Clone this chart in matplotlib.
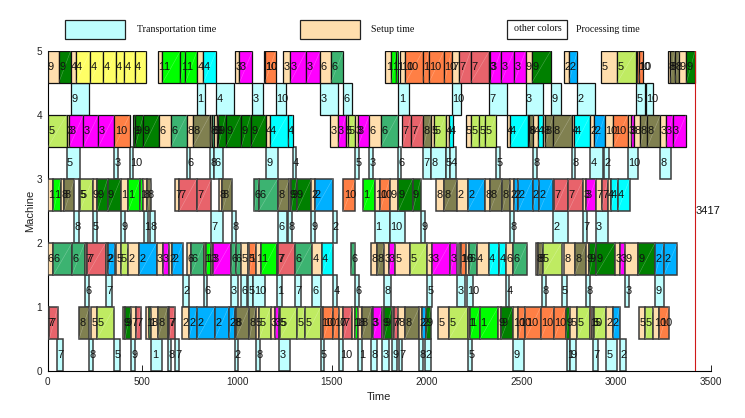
import matplotlib
matplotlib.use("Agg")
import matplotlib.pyplot as plt
from matplotlib.patches import Rectangle

# (start, end, job, colour category)
machine_5 = [(0,59,9,'S'),(59,122,9,'G'),(122,149,4,'S'),(149,226,4,'Y'),(226,295,4,'Y'),(295,360,4,'Y'),(360,405,4,'Y'),(405,460,4,'Y'),(460,521,4,'Y'),
 (581,606,1,'S'),(606,701,1,'L'),(701,727,1,'L'),(727,789,1,'L'),(789,822,4,'S'),(822,891,4,'C'),(991,1012,3,'S'),(1012,1081,3,'M'),
 (1144,1146,10,'S'),(1146,1204,10,'O'),(1244,1279,3,'S'),(1279,1365,3,'M'),(1365,1439,3,'M'),(1439,1494,6,'S'),(1494,1561,6,'A'),
 (1782,1814,1,'S'),(1814,1840,1,'L'),(1840,1851,1,'L'),(1861,1888,10,'S'),(1888,1979,10,'O'),(1979,2011,1,'O'),(2011,2092,10,'O'),(2092,2132,10,'O'),
 (2132,2173,7,'S'),(2173,2232,7,'R'),(2232,2331,7,'R'),(2331,2334,3,'S'),(2334,2391,3,'M'),(2391,2461,3,'M'),(2461,2522,3,'M'),(2522,2554,9,'S'),(2554,2654,9,'G'),
 (2726,2749,2,'S'),(2749,2795,2,'B'),(2922,3004,5,'S'),(3004,3103,5,'P'),(3112,3119,10,'O'),(3119,3141,10,'O'),
 (3272,3284,8,'S'),(3284,3309,8,'K'),(3309,3333,8,'K'),(3333,3370,9,'S'),(3370,3416,9,'G')]
transport_4 = [(122,217,9),(789,833,1),(891,984,4),(1081,1135,3),(1204,1256,10),(1439,1532,3),(1561,1606,6),
 (1851,1905,1),(2132,2180,10),(2331,2422,7),(2522,2612,3),(2654,2707,9),(2795,2886,2),(3103,3154,5),(3155,3196,10)]
machine_4 = [(3,101,5,'P'),(101,115,3,'S'),(115,189,3,'M'),(189,268,3,'M'),(268,353,3,'M'),(353,433,10,'O'),
 (453,462,9,'G'),(462,506,9,'G'),(506,588,9,'G'),(588,652,6,'S'),(652,736,6,'A'),(736,766,8,'S'),(766,857,8,'K'),(857,866,8,'K'),(866,878,6,'A'),(878,892,9,'S'),
 (892,901,9,'G'),(901,940,9,'G'),(940,1022,9,'G'),(1022,1072,9,'G'),(1072,1151,9,'G'),(1151,1172,4,'S'),(1172,1267,4,'C'),(1267,1293,4,'C'),
 (1492,1531,3,'S'),(1531,1573,3,'M'),(1573,1587,5,'S'),(1587,1624,5,'P'),(1624,1636,3,'S'),(1636,1698,3,'M'),(1698,1759,6,'S'),(1759,1849,6,'A'),
 (1872,1919,7,'R'),(1919,1983,7,'R'),(1983,2023,8,'K'),(2023,2039,5,'S'),(2039,2100,5,'P'),(2100,2120,4,'S'),(2120,2137,4,'C'),
 (2206,2236,5,'S'),(2236,2278,5,'P'),(2278,2308,5,'P'),(2308,2366,5,'P'),
 (2422,2438,4,'S'),(2438,2533,4,'C'),(2533,2542,8,'S'),(2542,2563,8,'K'),(2563,2586,4,'S'),(2586,2616,4,'C'),(2616,2623,8,'S'),(2623,2668,8,'K'),(2668,2765,8,'K'),
 (2765,2779,4,'S'),(2779,2864,4,'C'),(2864,2885,2,'S'),(2885,2941,2,'B'),(2941,2985,10,'S'),(2985,3062,10,'O'),(3062,3076,3,'S'),(3076,3092,3,'M'),(3092,3127,8,'S'),
 (3127,3164,8,'K'),(3164,3233,8,'K'),(3233,3261,3,'S'),(3261,3298,3,'M'),(3298,3368,3,'M')]
transport_3 = [(101,170,5),(353,372,3),(433,453,10),(736,754,6),(857,878,8),(878,924,6),(1151,1218,9),(1293,1313,4),(1624,1645,5),(1698,1715,3),
 (1847,1867,6),(1983,2023,7),(2023,2100,8),(2100,2123,5),(2123,2153,4),(2366,2385,5),(2563,2581,8),(2765,2783,8),(2864,2932,4),(2936,2960,2),(3062,3117,10),(3233,3287,8)]
machine_3 = [(3,31,1,'S'),(31,70,1,'L'),(70,89,8,'S'),(89,142,8,'K'),(166,171,5,'S'),(171,238,5,'P'),(238,263,9,'S'),(263,317,9,'G'),(317,386,9,'G'),(386,426,1,'S'),
 (426,488,1,'L'),(488,506,1,'L'),(506,527,8,'S'),(527,548,8,'K'),(673,696,7,'S'),(696,787,7,'R'),(787,864,7,'R'),(903,922,8,'S'),(922,972,8,'K'),
 (1091,1114,6,'A'),(1114,1214,6,'A'),(1214,1276,8,'K'),(1276,1285,9,'S'),(1285,1314,9,'G'),(1314,1392,9,'G'),(1392,1409,2,'S'),(1409,1504,2,'B'),
 (1561,1624,10,'O'),(1663,1728,1,'L'),(1728,1754,10,'S'),(1754,1805,10,'O'),(1805,1851,9,'S'),(1851,1926,9,'G'),(1926,1969,9,'G'),
 (2051,2092,8,'S'),(2092,2162,8,'K'),(2162,2217,2,'S'),(2217,2306,2,'B'),(2306,2334,8,'S'),(2334,2399,8,'K'),(2399,2442,8,'K'),(2442,2461,2,'S'),(2461,2484,2,'B'),
 (2484,2559,2,'B'),(2559,2595,2,'B'),(2595,2665,2,'B'),(2674,2748,7,'R'),(2748,2827,7,'R'),(2827,2839,3,'S'),(2839,2892,3,'M'),(2892,2923,7,'S'),(2923,2955,7,'R'),
 (2955,2971,4,'S'),(2971,3008,4,'C'),(3008,3071,4,'C')]
transport_2 = [(142,166,8),(238,263,5),(386,407,9),(509,532,1),(541,569,8),(864,924,7),(972,994,8),(1214,1265,6),(1270,1292,8),(1392,1413,9),(1504,1529,2),
 (1728,1805,1),(1805,1886,10),(1969,1993,9),(2442,2461,8),(2665,2748,2),(2827,2848,7),(2892,2955,3)]
machine_2 = [(0,31,6,'S'),(31,129,6,'A'),(129,196,6,'A'),(196,210,7,'S'),(210,307,7,'R'),(307,317,2,'S'),(317,358,2,'B'),(361,386,5,'S'),(386,426,5,'P'),(426,484,2,'S'),
 (484,576,2,'B'),(576,607,3,'S'),(607,643,3,'M'),(643,655,2,'S'),(655,713,2,'B'),(738,755,6,'S'),(755,826,6,'A'),(826,834,1,'S'),(834,861,1,'L'),(861,871,3,'S'),
 (871,966,3,'M'),(966,992,6,'A'),(992,1022,6,'A'),(1022,1058,5,'S'),(1058,1063,5,'P'),(1063,1098,1,'O'),(1098,1124,1,'S'),(1124,1209,1,'L'),(1209,1218,7,'S'),
 (1218,1306,7,'R'),(1306,1397,6,'A'),(1397,1446,4,'S'),(1446,1508,4,'C'),(1601,1622,6,'A'),(1708,1740,8,'S'),(1740,1777,8,'K'),(1777,1800,3,'S'),(1800,1835,3,'M'),
 (1835,1912,5,'S'),(1912,2004,5,'P'),(2004,2030,3,'S'),(2030,2123,3,'M'),(2123,2159,3,'M'),(2173,2180,1,'S'),(2180,2208,10,'O'),(2208,2222,6,'S'),(2222,2264,6,'A'),
 (2264,2327,4,'S'),(2327,2384,4,'C'),(2384,2419,4,'C'),(2419,2457,6,'S'),(2457,2531,6,'A'),(2577,2589,8,'S'),(2589,2612,8,'K'),(2612,2712,5,'P'),(2723,2781,8,'S'),
 (2781,2841,8,'K'),(2841,2858,9,'S'),(2858,2893,9,'G'),(2893,2994,9,'G'),(2994,3020,3,'S'),(3020,3047,3,'M'),(3047,3117,9,'S'),(3117,3205,9,'G'),(3205,3252,2,'B'),(3252,3323,2,'B')]
transport_1 = [(196,217,6),(307,338,7),(713,745,2),(826,843,6),(966,1007,3),(1022,1054,6),(1058,1086,5),(1086,1147,10),(1209,1239,1),(1306,1336,7),(1397,1441,6),(1508,1529,4),(1622,1643,6),
 (1777,1810,8),(2004,2027,5),(2159,2204,3),(2211,2243,10),(2419,2436,4),(2609,2628,8),(2712,2739,5),(2841,2860,8),(3047,3066,3),(3205,3252,9)]
machine_1 = [(0,10,7,'S'),(10,54,7,'R'),(166,221,8,'K'),(231,261,5,'S'),(261,353,5,'P'),(397,409,9,'S'),(409,442,9,'G'),(442,467,7,'S'),(467,491,7,'R'),(520,534,1,'S'),
 (534,548,1,'L'),(548,581,8,'S'),(581,634,8,'K'),(634,643,7,'S'),(643,671,7,'R'),(708,745,2,'S'),(745,790,2,'B'),(790,882,2,'B'),(882,956,2,'B'),(956,987,2,'B'),
 (987,992,8,'S'),(992,1065,8,'K'),(1065,1098,8,'K'),(1098,1117,5,'S'),(1117,1177,5,'P'),(1177,1198,3,'S'),(1198,1221,3,'M'),(1221,1226,5,'S'),(1226,1318,5,'P'),
 (1318,1357,5,'P'),(1357,1441,5,'P'),(1441,1455,10,'S'),(1455,1508,10,'O'),(1508,1540,10,'O'),(1540,1561,7,'S'),(1561,1608,7,'R'),(1608,1622,1,'S'),(1622,1640,1,'L'),
 (1640,1657,8,'S'),(1657,1710,8,'K'),(1710,1715,3,'S'),(1715,1766,3,'M'),(1766,1775,9,'S'),(1775,1817,9,'G'),(1817,1828,7,'S'),(1828,1849,7,'R'),(1849,1886,8,'S'),
 (1886,1962,8,'K'),(1962,1974,2,'S'),(1974,1997,2,'B'),(1997,2021,9,'G'),(2062,2118,5,'S'),(2118,2217,5,'P'),(2217,2227,1,'S'),(2227,2282,1,'L'),(2282,2378,1,'L'),
 (2378,2392,9,'S'),(2392,2454,9,'G'),(2454,2484,10,'S'),(2484,2521,10,'O'),(2521,2602,10,'O'),(2602,2672,10,'O'),(2672,2735,10,'O'),(2735,2756,9,'G'),(2756,2795,5,'S'),
 (2795,2862,5,'P'),(2862,2871,10,'O'),(2871,2885,5,'S'),(2885,2945,5,'P'),(2945,2981,2,'S'),(2981,3018,2,'B'),(3122,3154,5,'S'),(3154,3196,5,'P'),(3196,3228,10,'S'),(3228,3277,10,'O')]
transport_0 = [(52,84,7),(217,242,8),(353,384,5),(442,460,9),(548,606,1),(634,651,8),(671,696,7),(987,1007,2),(1098,1119,8),(1221,1279,3),(1441,1458,5),(1540,1561,10),(1640,1661,1),(1708,1738,8),
 (1766,1800,3),(1817,1842,9),(1853,1872,7),(1962,1979,8),(1993,2021,2),(2217,2238,5),(2457,2512,9),(2739,2756,1),(2756,2786,9),(2876,2902,7),(2945,3004,5),(3018,3050,2)]

machines = {5: machine_5, 4: machine_4, 3: machine_3, 2: machine_2, 1: machine_1}
transports = {4: transport_4, 3: transport_3, 2: transport_2, 1: transport_1, 0: transport_0}
makespan = 3417
legend_labels = ['Transportation time', 'Setup time', 'other colors', 'Processing time']

palette = {'S': '#FFDEAD', 'Y': '#FFFF66', 'G': '#008000', 'L': '#00FF00', 'M': '#FF00FF', 'O': '#FF7F45',
           'A': '#3CB371', 'R': '#E8636B', 'K': '#808050', 'P': '#BFEB62', 'C': '#00FFFF', 'B': '#00B0FF'}
transport_colour = '#BFFFFF'

W, H = 745, 418
fig = plt.figure(figsize=(W / 100, H / 100), dpi=100)
ax = fig.add_axes([47.5 / W, 47 / H, 663.5 / W, 320 / H])
ax.set_xlim(0, 3500)
ax.set_ylim(0, 5)
for s in ['top', 'right']:
    ax.spines[s].set_visible(False)
for s in ['left', 'bottom']:
    ax.spines[s].set_linewidth(0.8)
ax.tick_params(direction='in', length=4, width=0.6, labelsize=7.2, pad=4, labelcolor='#222222')
ax.set_xticks(range(0, 3501, 500))
ax.set_yticks(range(6))
for t in ax.get_xticklabels() + ax.get_yticklabels():
    t.set_fontfamily('Liberation Sans')
ax.set_xlabel('Time', fontsize=8, family='Liberation Sans', labelpad=4, color='#222222')
ax.set_ylabel('Machine', fontsize=8, family='Liberation Sans', labelpad=1, color='#222222')

LABEL = dict(fontsize=7.9, family='Liberation Sans', va='center', ha='left', color='#111111', zorder=5, clip_on=False)

def edge_style(row):
    # the lower rows of the reference carry softer, wider outlines
    return ('#3a3a3a', 1.1) if row <= 3 else ('#111111', 0.9)

for row, segs in machines.items():
    ec, lw = edge_style(row)
    for a, b, job, cat in segs:
        ax.barh(row - 0.25, b - a, height=0.5, left=a, color=palette[cat],
                edgecolor=ec, linewidth=lw, zorder=3)
        if cat != 'S':
            ax.plot([a, b], [row - 0.5, row], color='white', alpha=0.3, lw=0.4, zorder=3.5)
        ax.text(a + 2, row - 0.25, str(job), **LABEL)
for row, segs in transports.items():
    ec, lw = edge_style(row)
    for a, b, job in segs:
        ax.barh(row + 0.25, b - a, height=0.5, left=a, color=transport_colour,
                edgecolor=ec, linewidth=lw, zorder=2)
        ax.text(a + 2, row + 0.25, str(job), **LABEL)

ax.plot([makespan, makespan], [0, 5], color='#D01818', lw=0.8, zorder=4)
ax.text(makespan, 2.5, str(makespan), fontsize=8, family='Liberation Sans', va='center', ha='left', color='#111111', zorder=6)

def fig_box(x0, x1, y0, y1, colour):
    fig.add_artist(Rectangle((x0 / W, 1 - y1 / H), (x1 - x0) / W, (y1 - y0) / H, transform=fig.transFigure,
                             facecolor=colour, edgecolor='#222222', linewidth=0.9))

def fig_text(x, y, s, ha='left'):
    fig.text(x / W, 1 - y / H, s, family='Liberation Serif', fontsize=7.2, ha=ha, va='center', color='#111111')

fig_box(64.5, 124.5, 19.5, 39, transport_colour)
fig_box(299.5, 360, 19.5, 39, palette['S'])
fig_box(507.5, 567.5, 19.5, 38.5, 'white')
fig_text(137, 29, legend_labels[0])
fig_text(371, 29, legend_labels[1])
fig_text(537.5, 28.5, legend_labels[2], ha='center')
fig_text(576, 29, legend_labels[3])

fig.savefig('out.png', dpi=100)
